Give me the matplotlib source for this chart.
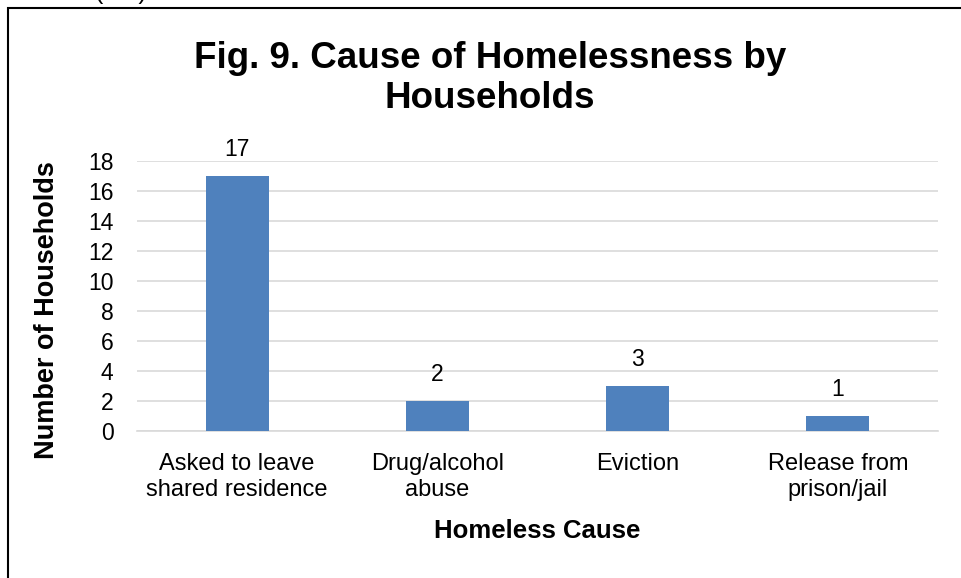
import matplotlib
matplotlib.use('Agg')
import matplotlib.pyplot as plt
from matplotlib.patches import Rectangle

plt.rcParams['font.family'] = ['Liberation Sans', 'DejaVu Sans']

causes = ['Asked to leave\nshared residence', 'Drug/alcohol\nabuse', 'Eviction', 'Release from\nprison/jail']
households = [17, 2, 3, 1]
yticks = list(range(0, 19, 2))

fig = plt.figure(figsize=(9.61, 5.78), dpi=100)
ax = fig.add_axes([0.1426, 0.2543, 0.8334, 0.4672])

x = list(range(len(causes)))
bars = ax.bar(x, households, width=0.315, color='#4F81BD', zorder=3)
for xi, v in zip(x, households):
    ax.text(xi, v + 1.35, str(v), ha='center', va='baseline', fontsize=16.5)

ax.set_xlim(-0.5, 3.5)
ax.set_ylim(0, 18)
ax.set_yticks(yticks)
ax.set_xticks(x)
ax.set_xticklabels(causes, fontsize=17, linespacing=1.2)
ax.tick_params(axis='y', labelsize=16.5, length=0, pad=17)
ax.tick_params(axis='x', length=0, pad=16)
ax.grid(axis='y', color='#D9D9D9', linewidth=1.2, zorder=0)
for s in ['top', 'right', 'left']:
    ax.spines[s].set_visible(False)
ax.spines['bottom'].set_color('#D9D9D9')
ax.spines['bottom'].set_linewidth(1.2)

ax.set_ylabel('Number of Households', fontsize=19.5, fontweight='bold')
ax.yaxis.set_label_coords(-0.096, 0.448)
ax.set_xlabel('Homeless Cause', fontsize=18.5, fontweight='bold', labelpad=13)

fig.text(0.51, 0.864, 'Fig. 9. Cause of Homelessness by\nHouseholds', ha='center', va='center',
         fontsize=26.5, fontweight='bold', linespacing=1.2)

# text from the page above, cut off by the top edge
fig.text(121 / 961, 1.0 + 1.5 / 578, '(HH)', ha='center', va='baseline', fontsize=18)

# chart frame (cut off at right/bottom)
fig.patches.append(Rectangle((8 / 961, -0.1), 1.2, 1 - 8 / 578 + 0.1, transform=fig.transFigure,
                             fill=False, edgecolor='black', linewidth=1.5, figure=fig))

fig.savefig('out.png', dpi=100)
